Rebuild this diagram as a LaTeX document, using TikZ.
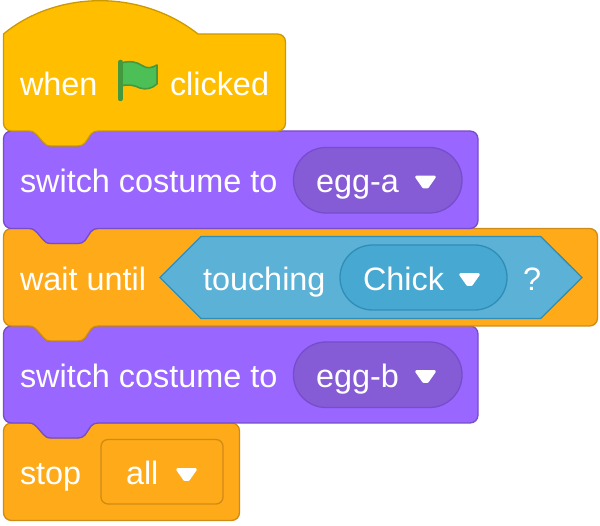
\documentclass[tikz,border=0pt]{standalone}
\usepackage{fontspec}
\setmainfont{Liberation Sans}
\newcommand{\tabbottom}[2]{% #1 bottom y, #2 right x : right edge, bottom edge with tab
 -- (#2,#1-8) .. controls (#2,#1-3.5) and (#2-3.5,#1) .. (#2-8,#1)
 -- (98,#1) .. controls (95,#1) and (93,#1+1) .. (91,#1+3)
 -- (85,#1+12) .. controls (83,#1+14) and (81,#1+15) .. (78,#1+15)
 -- (51,#1+15) .. controls (47,#1+15) and (45,#1+13.5) .. (43,#1+11)
 -- (37,#1+4) .. controls (35,#1+2) and (33,#1) .. (29,#1)
 -- (11.5,#1) .. controls (7,#1) and (3.5,#1-3.5) .. (3.5,#1-8) -- cycle}
\newcommand{\flatbottom}[2]{% #1 bottom y, #2 right x : no tab
 -- (#2,#1-8) .. controls (#2,#1-3.5) and (#2-3.5,#1) .. (#2-8,#1)
 -- (11.5,#1) .. controls (7,#1) and (3.5,#1-3.5) .. (3.5,#1-8) -- cycle}
\newcommand{\blocktop}[2]{% #1 top y, #2 right x : top edge with notch
 (3.5,#1+8) .. controls (3.5,#1+3.5) and (7,#1) .. (11.5,#1)
 -- (29,#1) .. controls (33,#1) and (35,#1+2) .. (37,#1+4)
 -- (43,#1+11) .. controls (45,#1+13.5) and (47,#1+15) .. (51,#1+15)
 -- (78,#1+15) .. controls (81,#1+15) and (83,#1+14) .. (85,#1+12)
 -- (91,#1+3) .. controls (93,#1+1) and (95,#1) .. (98,#1)
 -- (#2-8,#1) .. controls (#2-3.5,#1) and (#2,#1+3.5) .. (#2,#1+8)}
\newcommand{\blockshape}[4]{% #1 style, #2 top, #3 bottom, #4 right
 \draw[#1] \blocktop{#2}{#4} \tabbottom{#3}{#4};}
\newcommand{\ddarrow}[2]{% #1 left x, #2 top y : dropdown triangle
 \draw[white,fill=white,line width=2.6pt,line join=round]
  (#1+1.5,#2+1.5) -- (#1+19.5,#2+1.5) -- (#1+12.5,#2+11.5) -- (#1+8.5,#2+11.5) -- cycle;}
\definecolor{evt}{HTML}{FFBF00}\definecolor{evtl}{HTML}{CC9900}
\definecolor{look}{HTML}{9966FF}\definecolor{lookl}{HTML}{774DCB}\definecolor{lookd}{HTML}{855CD6}
\definecolor{ctl}{HTML}{FFAB19}\definecolor{ctll}{HTML}{CF8B17}
\definecolor{sns}{HTML}{5CB1D6}\definecolor{snsl}{HTML}{2E8EB8}\definecolor{snsd}{HTML}{47A8D1}
\definecolor{flagf}{HTML}{4CBF56}\definecolor{flagl}{HTML}{45993D}
\tikzset{
 lbl/.style={text=white,font=\fontsize{32.4}{38}\selectfont,anchor=base west,inner sep=0pt,outer sep=0pt},
 evtblock/.style={fill=evt,draw=evtl,line width=1.3pt},
 lookblock/.style={fill=look,draw=lookl,line width=1.3pt},
 ctlblock/.style={fill=ctl,draw=ctll,line width=1.3pt},
 lookpill/.style={fill=lookd,draw=lookl,line width=1.3pt,rounded corners=32.5},
 snspill/.style={fill=snsd,draw=snsl,line width=1.3pt,rounded corners=32.5},
 hexa/.style={fill=sns,draw=snsl,line width=1.3pt,line join=miter},
 ctlbox/.style={fill=ctl,draw=ctll,line width=1.3pt,rounded corners=7}
}
\begin{document}
\begin{tikzpicture}[x=1pt,y=-1pt]
\useasboundingbox (0,0) rectangle (600,526);
% stop block
\draw[ctlblock] \blocktop{423}{239.5} \flatbottom{520.5}{239.5};
\draw[ctlbox] (101,439.5) rectangle (223,504);
\node[lbl] (stoptxt) at (20,485) {stop};
\node[lbl] (alltxt) at (126,485) {all};
\ddarrow{176}{468}
% second switch
\blockshape{lookblock}{326}{423}{478}
\draw[lookpill] (293.5,342) rectangle (462,407.5);
\node[lbl] (sw2) at (20,388) {switch costume to};
\node[lbl] (eggb) at (316,388) {egg-b};
\ddarrow{415}{370}
% wait until
\blockshape{ctlblock}{228.5}{326}{597.5}
\draw[hexa] (160,277.5) -- (201,236.5) -- (540.7,236.5) -- (582,277.5) -- (540.7,318.5) -- (201,318.5) -- cycle;
\draw[snspill] (340,245) rectangle (507,310);
\node[lbl] (waittxt) at (20,290.5) {wait until};
\node[lbl] (touch) at (203,290.5) {touching};
\node[lbl] (chick) at (363,290.5) {Chick};
\node[lbl] (qmark) at (523,290.5) {?};
\ddarrow{459}{273}
% first switch
\blockshape{lookblock}{131}{228.5}{478}
\draw[lookpill] (293.5,147.5) rectangle (462,213);
\node[lbl] (sw1) at (20,193) {switch costume to};
\node[lbl] (egga) at (316,193) {egg-a};
\ddarrow{415}{175.5}
% hat block
\draw[evtblock] (3.5,34) .. controls (30,12) and (65,0.7) .. (100,0.7)
 .. controls (135,0.7) and (170,12) .. (198,34)
 -- (277.5,34) .. controls (282,34) and (285.5,37.5) .. (285.5,42)
 \tabbottom{131}{285.5};
\node[lbl] (whentxt) at (20,96) {when};
\node[lbl] (clicked) at (170,96) {clicked};
% flag
\draw[fill=flagf,draw=flagl,line width=1.6pt,line join=round]
 (121,63) .. controls (130,60.5) and (137,62) .. (142,65.5)
 .. controls (147,69) and (152,68) .. (157,65)
 -- (157,84) .. controls (152,88.5) and (146,90) .. (140,88)
 .. controls (134,85) and (127,84) .. (121,86) -- cycle;
\draw[flagl,line width=4.5pt,line cap=round] (120.5,62) -- (120.5,99);
\end{tikzpicture}
\end{document}
